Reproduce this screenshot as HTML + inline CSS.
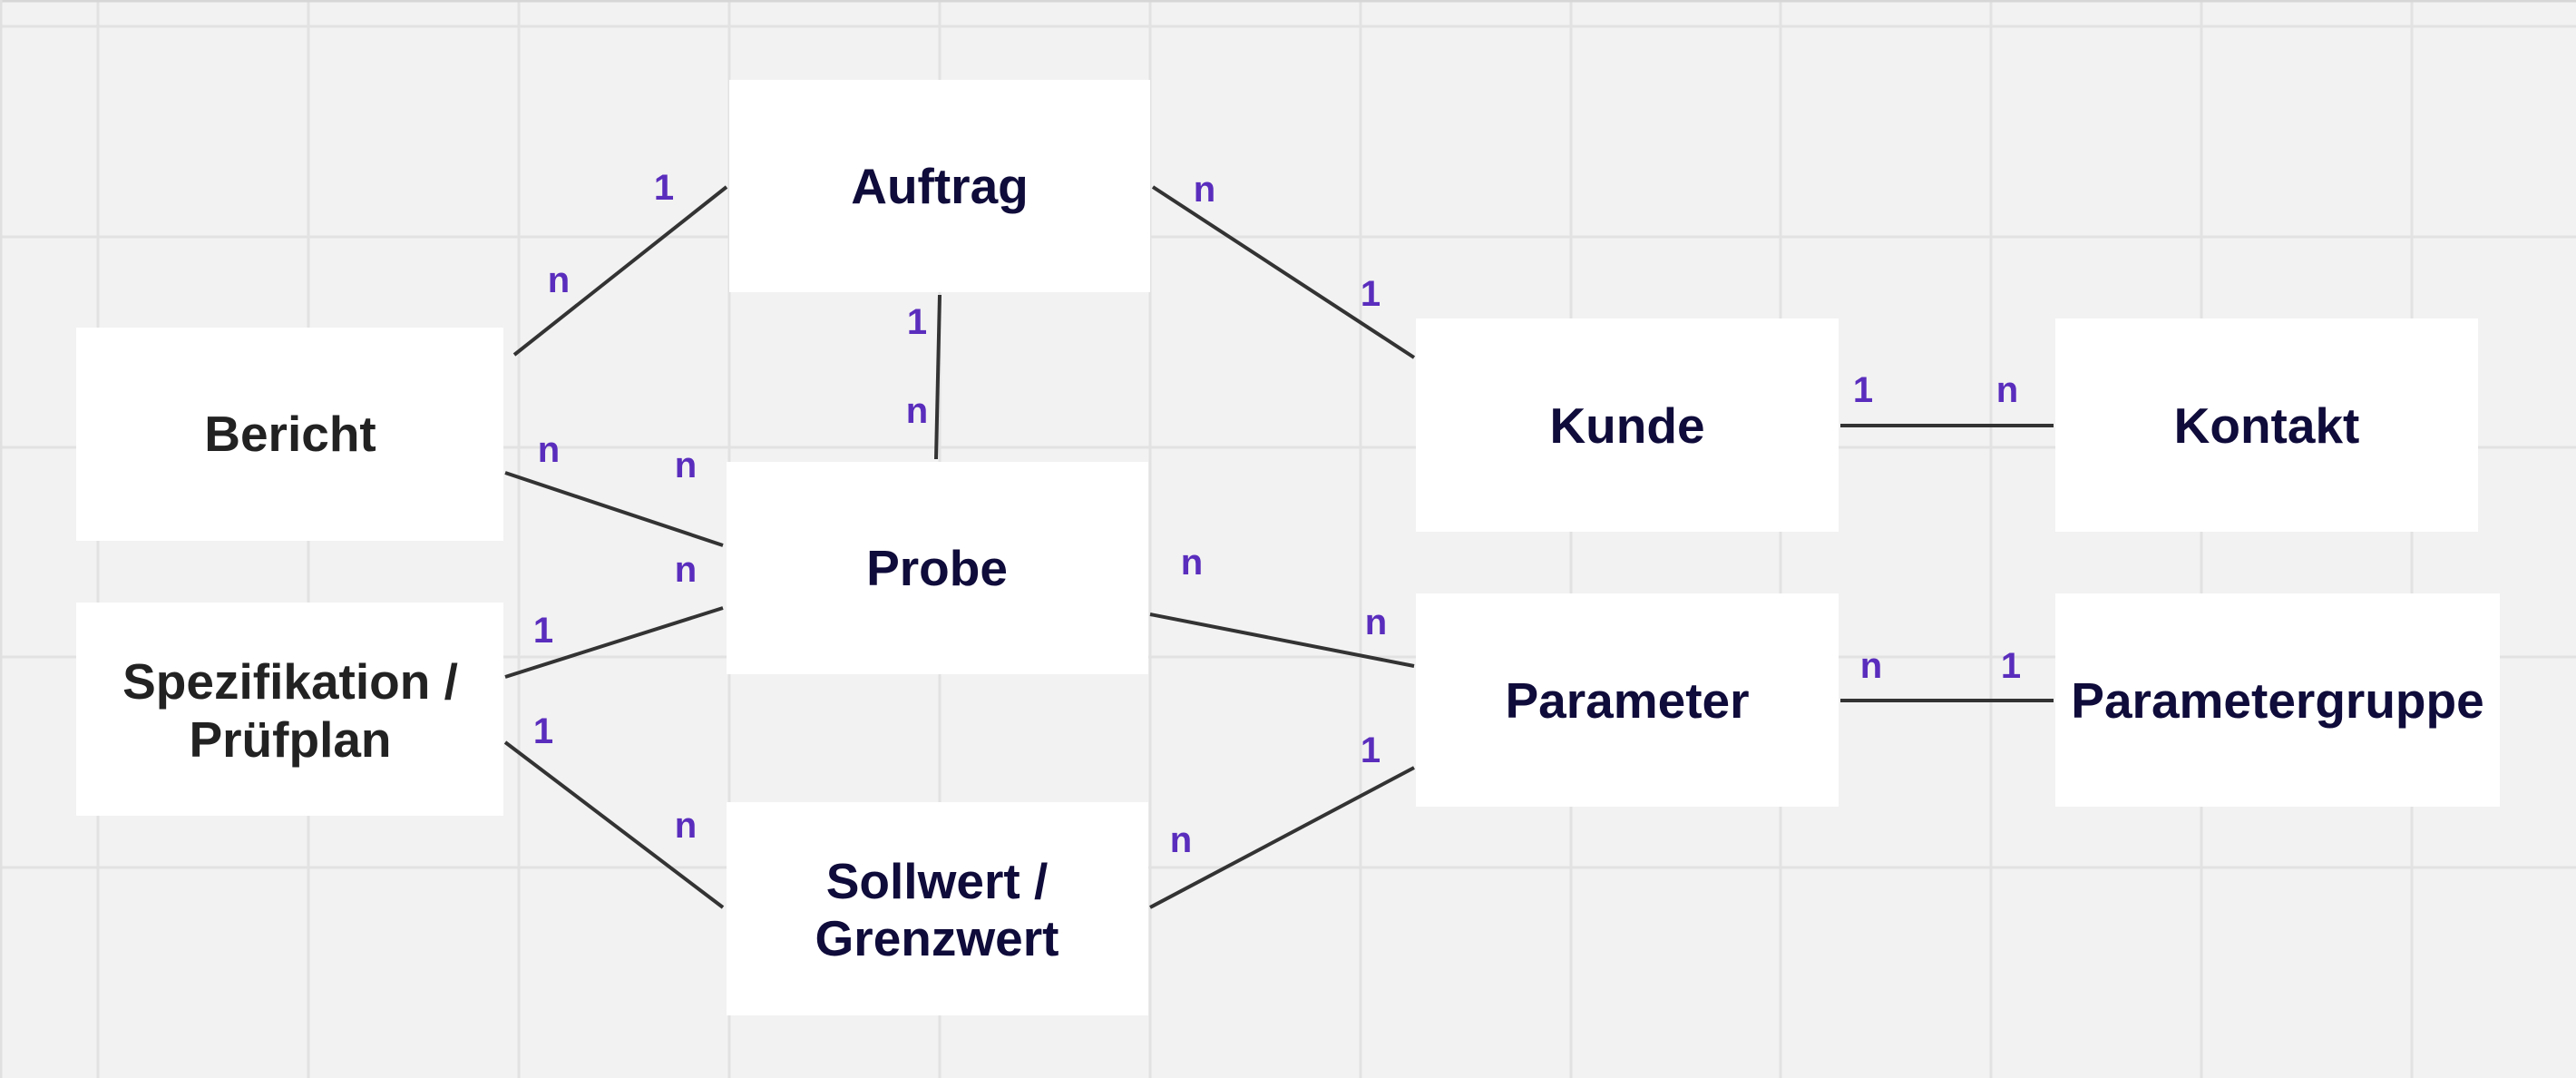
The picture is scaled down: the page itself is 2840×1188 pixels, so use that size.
<!DOCTYPE html>
<html><head><meta charset="utf-8"><style>
html,body{margin:0;padding:0;background:#f2f2f2;overflow:hidden}
svg{display:block}
.t{font-family:"Liberation Sans",Arial,sans-serif;font-weight:bold;font-size:55px;fill:#0f0b3a;text-anchor:middle;dominant-baseline:central}
.d{fill:#222}
.l{font-family:"Liberation Sans",Arial,sans-serif;font-weight:bold;font-size:40px;fill:#5a2dbd;text-anchor:middle;dominant-baseline:central}
</style></head><body>
<svg width="2840" height="1188" viewBox="0 0 2840 1188" xmlns="http://www.w3.org/2000/svg">
<rect width="2840" height="1188" fill="#f2f2f2"/>
<g stroke="#e2e2e2" stroke-width="3">
<line x1="108" y1="0" x2="108" y2="1188"/><line x1="340" y1="0" x2="340" y2="1188"/><line x1="572" y1="0" x2="572" y2="1188"/><line x1="804" y1="0" x2="804" y2="1188"/><line x1="1036" y1="0" x2="1036" y2="1188"/><line x1="1268" y1="0" x2="1268" y2="1188"/><line x1="1500" y1="0" x2="1500" y2="1188"/><line x1="1732" y1="0" x2="1732" y2="1188"/><line x1="1963" y1="0" x2="1963" y2="1188"/><line x1="2195" y1="0" x2="2195" y2="1188"/><line x1="2427" y1="0" x2="2427" y2="1188"/><line x1="2659" y1="0" x2="2659" y2="1188"/>
<line x1="0" y1="29" x2="2840" y2="29"/><line x1="0" y1="261" x2="2840" y2="261"/><line x1="0" y1="493" x2="2840" y2="493"/><line x1="0" y1="724" x2="2840" y2="724"/><line x1="0" y1="956" x2="2840" y2="956"/>
</g>
<line x1="0" y1="1" x2="2840" y2="1" stroke="#d6d6d6" stroke-width="3"/>
<line x1="1" y1="0" x2="1" y2="1188" stroke="#e0e0e0" stroke-width="3"/>
<g fill="#fff">
<rect x="804" y="88" width="464" height="234"/>
<rect x="84" y="361" width="471" height="235"/>
<rect x="84" y="664" width="471" height="235"/>
<rect x="801" y="509" width="465" height="234"/>
<rect x="801" y="884" width="465" height="235"/>
<rect x="1561" y="351" width="466" height="235"/>
<rect x="2266" y="351" width="466" height="235"/>
<rect x="1561" y="654" width="466" height="235"/>
<rect x="2266" y="654" width="490" height="235"/>
</g>
<g stroke="#333" stroke-width="4">
<line x1="567" y1="391" x2="801" y2="206"/>
<line x1="1036" y1="325" x2="1032" y2="506"/>
<line x1="557" y1="521" x2="797" y2="601"/>
<line x1="557" y1="746" x2="797" y2="670"/>
<line x1="557" y1="818" x2="797" y2="1000"/>
<line x1="1271" y1="206" x2="1559" y2="394"/>
<line x1="1268" y1="677" x2="1559" y2="734"/>
<line x1="1268" y1="1000" x2="1559" y2="846"/>
<line x1="2029" y1="469" x2="2264" y2="469"/>
<line x1="2029" y1="772" x2="2264" y2="772"/>
</g>
<text class="t" x="1036" y="205">Auftrag</text>
<text class="t d" x="320" y="478">Bericht</text>
<text class="t d" x="320" y="751">Spezifikation /</text>
<text class="t d" x="320" y="815">Prüfplan</text>
<text class="t" x="1033" y="626">Probe</text>
<text class="t" x="1033" y="971">Sollwert /</text>
<text class="t" x="1033" y="1034">Grenzwert</text>
<text class="t" x="1794" y="469">Kunde</text>
<text class="t" x="2499" y="469">Kontakt</text>
<text class="t" x="1794" y="772">Parameter</text>
<text class="t" x="2511" y="772">Parametergruppe</text>
<text class="l" x="732" y="207">1</text>
<text class="l" x="616" y="309">n</text>
<text class="l" x="1011" y="355">1</text>
<text class="l" x="1011" y="453">n</text>
<text class="l" x="605" y="496">n</text>
<text class="l" x="756" y="513">n</text>
<text class="l" x="756" y="628">n</text>
<text class="l" x="599" y="695">1</text>
<text class="l" x="599" y="806">1</text>
<text class="l" x="756" y="910">n</text>
<text class="l" x="1328" y="209">n</text>
<text class="l" x="1314" y="620">n</text>
<text class="l" x="1302" y="926">n</text>
<text class="l" x="1511" y="324">1</text>
<text class="l" x="2054" y="430">1</text>
<text class="l" x="2213" y="430">n</text>
<text class="l" x="1517" y="686">n</text>
<text class="l" x="1511" y="827">1</text>
<text class="l" x="2063" y="734">n</text>
<text class="l" x="2217" y="734">1</text>
</svg>
</body></html>
